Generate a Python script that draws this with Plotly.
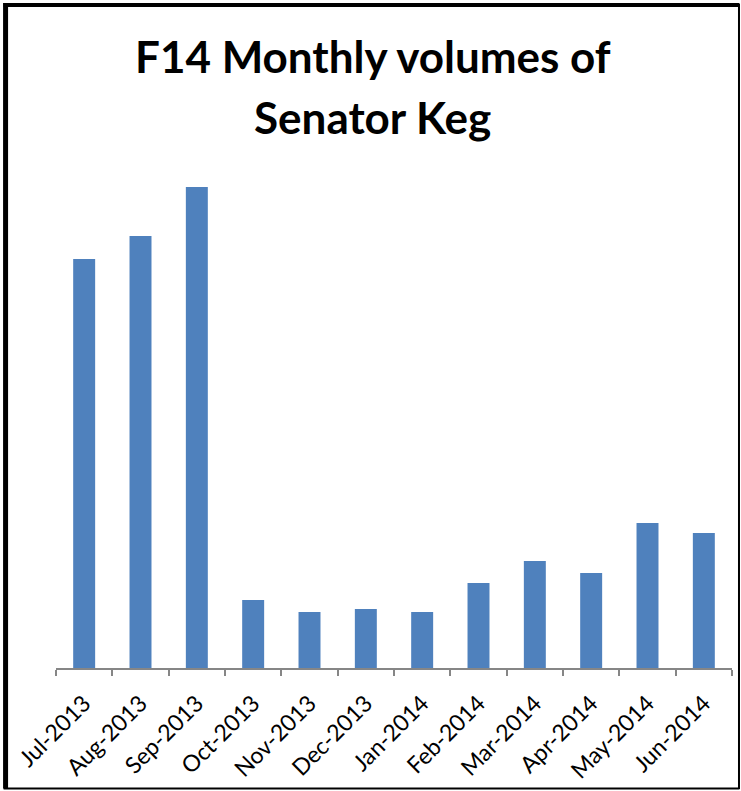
import plotly.graph_objects as go

# Monthly volumes, FY14
months = ["Jul-2013", "Aug-2013", "Sep-2013", "Oct-2013", "Nov-2013", "Dec-2013",
          "Jan-2014", "Feb-2014", "Mar-2014", "Apr-2014", "May-2014", "Jun-2014"]
volumes = [409, 432, 481, 68, 56, 59, 56, 85, 107, 95, 145, 135]
title_lines = ["F14 Monthly volumes of", "Senator Keg"]

W, H = 741, 791
L, R, T, B = 55.5, 8.5, 168, 123


def px_x(v):
    return (v - L) / (W - L - R)


def px_y(v):
    return (H - B - v) / (H - T - B)


fig = go.Figure(
    go.Bar(x=months, y=volumes, marker=dict(color="#4F81BD", line=dict(width=0)))
)

fig.update_layout(
    width=W, height=H,
    margin=dict(l=L, r=R, t=T, b=B, pad=0),
    paper_bgcolor="white", plot_bgcolor="white",
    bargap=0.61,
    showlegend=False,
    font=dict(family="Lato", color="black"),
)

# Two-line bold title, centred over the chart
for text, y_mid in zip(title_lines, [56, 117]):
    fig.add_annotation(
        text=f"<b>{text}</b>", showarrow=False,
        xref="paper", yref="paper",
        x=px_x(W / 2 + 2), y=px_y(y_mid),
        xanchor="center", yanchor="middle",
        font=dict(family="Lato", size=44, color="black"),
    )

fig.update_xaxes(
    type="category",
    tickangle=-45,
    tickfont=dict(family="Lato", size=23, color="black"),
    ticklabelstandoff=11,
    showline=True, linecolor="#868686", linewidth=1.5,
    ticks="outside", tickson="boundaries", ticklen=6, tickcolor="#868686", tickwidth=1.5,
    showgrid=False, zeroline=False,
)
fig.update_yaxes(range=[0, 500], visible=False, showgrid=False, zeroline=False)

# Outer frame around the whole chart
frame = [
    (5.0, 3.0, 5.0, 788.5, 5),      # left
    (3.0, 5.0, 740.0, 5.0, 4),      # top
    (739.5, 4.0, 739.5, 789.0, 2),  # right
    (3.0, 788.5, 740.0, 788.5, 2),  # bottom
]
for x0, y0, x1, y1, w in frame:
    fig.add_shape(type="line", xref="paper", yref="paper",
                  x0=px_x(x0), y0=px_y(y0), x1=px_x(x1), y1=px_y(y1),
                  line=dict(color="black", width=w))

fig.write_html("out.html")
